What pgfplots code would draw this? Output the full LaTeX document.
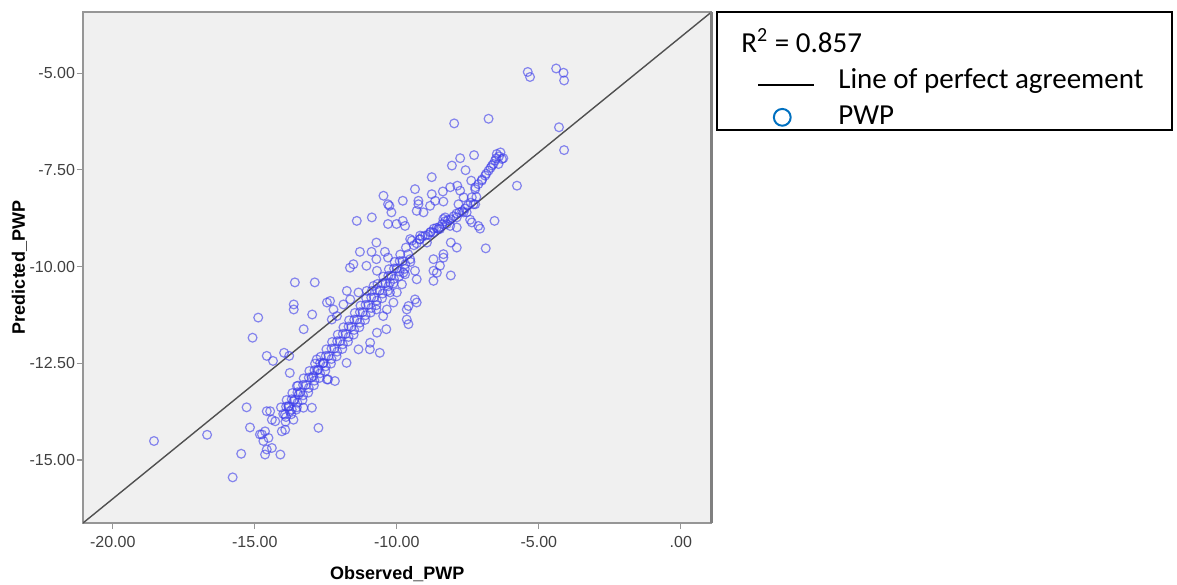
\documentclass[border=0pt]{standalone}
\usepackage{pgfplots}
\pgfplotsset{compat=1.18}
\usepackage{fontspec}
\setmainfont{Liberation Sans}
\newfontfamily\carlito{Carlito}
\definecolor{bg}{RGB}{240,240,240}
\definecolor{framegray}{RGB}{150,150,150}
\definecolor{markblue}{RGB}{60,60,235}
\definecolor{legblue}{RGB}{0,112,192}
\definecolor{diag}{RGB}{80,80,80}
\begin{document}
\begin{tikzpicture}
\path[use as bounding box] (-41.5pt,-30.5pt) rectangle (547pt,261.5pt);
\begin{axis}[
 scale only axis, width=314.25pt, height=255.5pt,
 xmin=-21.05, xmax=1.08, ymin=-16.63, ymax=-3.42,
 axis background/.style={fill=bg},
 axis line style={framegray, line width=0.8pt},
 xtick={-20,-15,-10,-5,0}, xticklabels={-20.00,-15.00,-10.00,-5.00,.00},
 ytick={-15,-12.5,-10,-7.5,-5}, yticklabels={-15.00,-12.50,-10.00,-7.50,-5.00},
 tick align=outside, tick pos=left,
 major tick length=3pt,
 tick style={framegray, line width=0.6pt},
 ticklabel style={font=\fontsize{8}{9}\selectfont, text=black!75},
 yticklabel style={xshift=2.5pt},
 xlabel={Observed\_PWP}, ylabel={Predicted\_PWP},
 label style={font=\bfseries\fontsize{9}{11}\selectfont},
 xlabel style={at={(axis description cs:0.5,-0.1115)}, anchor=base},
 ylabel style={at={(axis description cs:-0.0923,0.5)}, anchor=base},
 legend style={at={(axis description cs:1.0724,0.970)}, anchor=north west, draw=none, fill=none,
   inner sep=0pt, outer sep=0pt, row sep=0pt,
   font=\carlito\fontsize{14.5}{17}\selectfont,
   nodes={inner sep=0pt, text height=12.5pt, text depth=5.5pt},
   /tikz/every odd column/.append style={column sep=11.5pt}},
 legend cell align=left,
]
\addplot[diag, line width=0.7pt, forget plot] coordinates {(-21.05,-16.63) (1.08,-3.42)};
\addplot[only marks, mark=o, mark size=2.2pt, mark options={draw=markblue, line width=0.6pt, draw opacity=0.6}, forget plot] coordinates {
(-5.39,-4.97) (-5.31,-5.10) (-4.39,-4.88) (-4.13,-4.99) (-4.11,-5.19)
(-7.98,-6.30) (-6.77,-6.18) (-4.29,-6.40) (-4.11,-6.99) (-5.77,-7.91)
(-7.77,-7.20) (-7.28,-7.12) (-8.06,-7.39) (-7.58,-7.51) (-8.77,-7.69)
(-9.36,-8.00) (-9.79,-8.30) (-9.79,-8.82) (-9.24,-8.30) (-9.24,-8.39)
(-8.77,-8.13) (-8.38,-8.06) (-8.12,-7.95) (-7.87,-7.91) (-7.77,-8.04)
(-7.38,-7.78) (-7.24,-8.00) (-7.36,-8.21) (-7.30,-8.39)
(-6.48,-7.09) (-6.54,-7.26) (-6.65,-7.39) (-6.77,-7.52) (-6.89,-7.65)
(-7.01,-7.78) (-7.13,-7.87) (-7.24,-7.95) (-6.30,-7.22) (-6.42,-7.35) (-6.25,-7.20)
(-6.56,-8.82) (-6.87,-9.53) (-7.42,-8.79) (-7.07,-9.02) (-7.65,-8.60)
(-7.83,-8.39) (-8.10,-9.38) (-7.89,-9.51) (-8.36,-8.77) (-8.12,-8.95)
(-8.48,-9.03) (-8.71,-9.12) (-9.18,-9.29) (-9.47,-9.33) (-8.94,-9.38)
(-8.71,-9.81) (-8.36,-9.77) (-8.48,-9.98) (-9.53,-9.81) (-9.77,-10.16)
(-9.36,-10.11) (-9.30,-10.33) (-8.71,-10.11) (-8.71,-10.37) (-8.10,-10.23)
(-9.36,-10.85) (-9.59,-11.02) (-9.30,-10.93) (-9.59,-11.49) (-9.06,-8.60)
(-8.30,-8.73) (-8.65,-8.30) (-8.36,-8.32) (-8.83,-8.43) (-7.65,-8.21)
(-7.13,-8.95) (-9.53,-9.29) (-9.18,-9.20) (-8.83,-9.12) (-8.54,-9.03)
(-8.24,-8.90) (-7.89,-8.73) (-7.54,-8.60) (-7.24,-8.39) (-7.36,-8.86)
(-8.36,-9.68) (-8.59,-10.16) (-7.89,-8.99)
(-11.41,-8.82) (-10.88,-8.73) (-10.26,-8.43) (-10.47,-8.17) (-10.31,-8.39)
(-10.19,-8.60) (-10.31,-8.90) (-10.01,-8.90) (-10.72,-9.38) (-11.30,-9.62)
(-10.89,-9.62) (-10.42,-9.62) (-10.31,-9.77) (-10.72,-9.81) (-11.65,-10.03)
(-11.07,-9.98) (-9.71,-8.95) (-9.30,-8.56) (-10.70,-10.11) (-11.53,-9.94)
(-13.59,-10.41) (-12.89,-10.41) (-13.63,-10.98) (-13.63,-11.11) (-12.98,-11.24)
(-13.28,-11.62) (-14.88,-11.32) (-15.08,-11.84) (-14.58,-12.31) (-14.36,-12.44)
(-13.97,-12.23) (-13.79,-12.31) (-13.77,-12.75)
(-11.76,-10.63) (-11.35,-10.67) (-11.06,-10.63) (-10.82,-10.50) (-11.88,-10.98)
(-11.64,-10.85) (-12.23,-11.11) (-12.35,-10.89) (-12.11,-11.28) (-12.29,-11.37)
(-12.46,-10.93) (-10.72,-11.11) (-10.48,-11.28) (-10.37,-11.62) (-10.95,-12.14)
(-10.60,-12.23) (-11.77,-12.49) (-12.42,-12.92) (-12.18,-12.96) (-9.65,-11.37)
(-10.70,-11.71) (-10.94,-11.97) (-11.35,-12.14) (-9.71,-10.20) (-9.82,-10.46)
(-10.24,-10.41) (-10.24,-10.67) (-10.00,-10.67) (-10.12,-10.93) (-10.35,-11.11)
(-9.65,-11.11)
(-18.55,-14.51) (-16.68,-14.35) (-15.78,-15.45) (-15.48,-14.84) (-15.29,-13.64)
(-15.17,-14.16) (-14.46,-13.74) (-14.40,-13.96) (-14.28,-14.00) (-14.75,-14.34)
(-14.64,-14.26) (-14.52,-14.43) (-14.70,-14.51) (-14.58,-14.73) (-14.64,-14.86)
(-14.40,-14.69) (-14.10,-14.86) (-14.05,-14.26) (-13.93,-14.22) (-12.76,-14.17)
(-12.99,-13.65) (-13.29,-13.65) (-13.64,-13.96) (-14.58,-13.74) (-13.77,-13.74)
(-13.54,-13.70) (-13.94,-13.83) (-14.82,-14.34)
(-13.46,-13.31) (-13.64,-13.48) (-13.82,-13.61) (-13.52,-13.09) (-12.82,-12.40)
(-12.46,-12.92) (-12.76,-12.66) (-12.58,-12.49) (-12.94,-12.83)
(-14.00,-13.81) (-13.80,-13.62) (-13.60,-13.44) (-13.40,-13.25) (-13.20,-13.06)
(-13.00,-12.87) (-12.80,-12.68) (-12.60,-12.50) (-12.40,-12.31) (-12.20,-12.12)
(-12.00,-11.93) (-11.80,-11.74) (-11.60,-11.56) (-11.40,-11.37) (-11.20,-11.18)
(-11.00,-10.99) (-10.80,-10.80) (-10.60,-10.62) (-10.40,-10.43) (-10.20,-10.24)
(-10.00,-10.05) (-9.80,-9.86) (-9.60,-9.68)
(-13.92,-14.01) (-13.72,-13.82) (-13.52,-13.64) (-13.32,-13.45) (-13.12,-13.26)
(-12.92,-13.07) (-12.72,-12.88) (-12.52,-12.70) (-12.32,-12.51) (-12.12,-12.32)
(-11.92,-12.13) (-11.72,-11.94) (-11.52,-11.76) (-11.32,-11.57) (-11.12,-11.38)
(-10.92,-11.19) (-10.72,-11.00) (-10.52,-10.82) (-10.32,-10.63) (-10.12,-10.44)
(-9.92,-10.25) (-9.72,-10.06) (-9.52,-9.88)
(-14.08,-13.64) (-13.88,-13.45) (-13.68,-13.27) (-13.48,-13.08) (-13.28,-12.89)
(-13.08,-12.70) (-12.88,-12.51) (-12.68,-12.33) (-12.48,-12.14) (-12.28,-11.95)
(-12.08,-11.76) (-11.88,-11.57) (-11.68,-11.39) (-11.48,-11.20) (-11.28,-11.01)
(-11.08,-10.82) (-10.88,-10.63) (-10.68,-10.45) (-10.48,-10.26) (-10.28,-10.07)
(-10.08,-9.88) (-9.88,-9.69) (-9.68,-9.51)
(-13.90,-13.89) (-13.70,-13.70) (-13.50,-13.52) (-13.30,-13.33) (-13.10,-13.14)
(-12.90,-12.95) (-12.70,-12.76) (-12.50,-12.58) (-12.30,-12.39) (-12.10,-12.20)
(-11.90,-12.01) (-11.70,-11.82) (-11.50,-11.64) (-11.30,-11.45) (-11.10,-11.26)
(-10.90,-11.07) (-10.70,-10.88) (-10.50,-10.70) (-10.30,-10.51) (-10.10,-10.32)
(-9.90,-10.13) (-9.70,-9.94)
(-13.90,-13.62) (-13.70,-13.43) (-13.50,-13.25) (-13.30,-13.06) (-13.10,-12.87)
(-12.90,-12.68) (-12.70,-12.49) (-12.50,-12.31) (-12.30,-12.12) (-12.10,-11.93)
(-11.90,-11.74) (-11.70,-11.55) (-11.50,-11.37) (-11.30,-11.18) (-11.10,-10.99)
(-10.90,-10.80) (-10.70,-10.61) (-10.50,-10.43) (-10.30,-10.24) (-10.10,-10.05)
(-9.90,-9.86)
(-9.40,-9.45) (-9.20,-9.30) (-9.00,-9.20) (-8.80,-9.10) (-8.60,-9.00)
(-8.40,-8.90) (-8.20,-8.80) (-8.00,-8.70) (-7.80,-8.60) (-7.60,-8.50)
(-7.40,-8.35) (-7.20,-8.20) (-7.00,-7.75) (-6.85,-7.60) (-6.70,-7.45)
(-6.60,-7.35) (-6.50,-7.20) (-6.40,-7.15) (-6.35,-7.05)
(-9.30,-9.40) (-9.10,-9.22) (-8.90,-9.18) (-8.70,-9.02) (-8.50,-8.98)
(-8.30,-8.83) (-8.10,-8.78) (-7.90,-8.63) (-7.70,-8.57) (-7.50,-8.42)
};
\addlegendimage{empty legend}
\addlegendentry{\hspace*{-48.5pt}R\textsuperscript{\fontsize{10}{10}\selectfont 2} = 0.857}
\addlegendimage{legend image code/.code={\draw[black, line width=1.2pt] (0pt,-1.7pt) -- (28pt,-1.7pt);}}
\addlegendentry{Line of perfect agreement}
\addlegendimage{only marks, mark=o, mark size=4.2pt, mark options={draw=legblue, line width=1pt}, legend image post style={xshift=3.5pt}}
\addlegendentry{PWP}
\end{axis}
\draw[black!50, line width=1.2pt] (314.25pt,0pt) -- (314.25pt,255.5pt);
\draw[black, line width=1pt] (317pt,196.5pt) rectangle (544.5pt,255.5pt);
\end{tikzpicture}
\end{document}
